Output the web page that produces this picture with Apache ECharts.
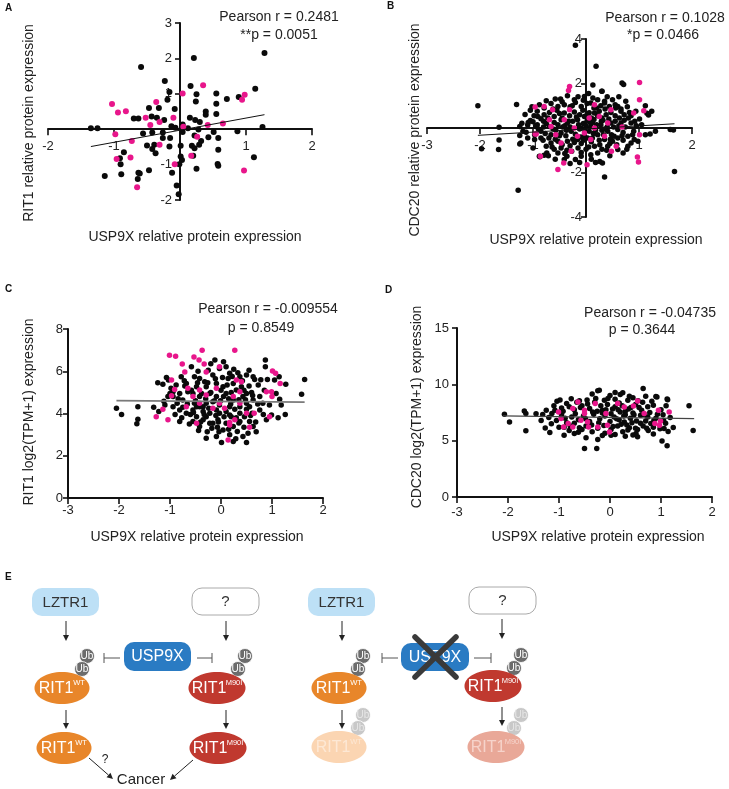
<!DOCTYPE html>
<html><head><meta charset="utf-8">
<script src="https://cdn.jsdelivr.net/npm/echarts/dist/echarts.min.js"></script>
<style>html,body{margin:0;padding:0;background:#fff}#c{width:729px;height:789px}</style>
</head><body><div id="c"></div>
<script>
// ---------------- DATA ----------------
// Panel A: USP9X vs RIT1 relative protein expression
const aBlack = [[1.28,2.15],[0.21,2.01],[-0.59,1.76],[-0.23,1.36],[0.16,1.22],[-0.16,1.05],[0.25,0.99],[0.55,1.01],[1.14,1.14],[0.71,0.85],[0.89,0.91],[-0.19,0.83],[0.24,0.78],[0.55,0.72],[-0.32,0.60],[-0.47,0.60],[-0.08,0.57],[0.39,0.50],[0.55,0.43],[0.39,0.41],[0.15,0.32],[-0.70,0.30],[-0.63,0.30],[-0.43,0.36],[-0.35,0.32],[-0.24,0.26],[0.23,0.26],[0.30,0.20],[-1.35,0.03],[-1.25,0.03],[-0.13,0.08],[-0.07,0.04],[0.04,0.13],[0.12,0.03],[0.28,-0.01],[0.51,-0.08],[0.87,-0.06],[1.25,0.06],[-0.56,-0.12],[-0.42,-0.09],[-0.26,-0.09],[0.04,-0.08],[0.22,-0.18],[0.43,-0.23],[0.58,-0.25],[-0.26,-0.25],[-0.15,-0.25],[0.32,-0.33],[-0.50,-0.46],[-0.39,-0.44],[-0.16,-0.49],[0.01,-0.47],[0.18,-0.47],[0.22,-0.54],[0.29,-0.44],[-0.42,-0.56],[-0.37,-0.68],[-0.85,-0.65],[-0.91,-0.82],[0.58,-0.58],[0.01,-0.77],[0.03,-0.87],[1.12,-0.79],[0.20,-0.75],[-0.90,-0.99],[-0.01,-0.99],[0.57,-0.98],[0.58,-1.03],[0.25,-1.12],[-0.47,-1.16],[-0.89,-1.27],[-1.14,-1.32],[-0.12,-1.23],[-0.63,-1.23],[-0.64,-1.41],[-0.05,-1.59],[-0.02,-1.84],[-0.61,-1.25]];
const aPink = [[-1.03,0.71],[-0.94,0.47],[-0.82,0.51],[-0.36,0.77],[0.04,1.01],[0.35,1.24],[0.98,0.97],[0.94,0.83],[-0.52,0.32],[-0.10,0.32],[-0.31,0.20],[-0.45,0.12],[0.05,0.07],[0.42,0.12],[0.65,0.16],[-0.98,-0.14],[-0.73,-0.33],[-0.31,-0.44],[0.26,-0.21],[-0.96,-0.84],[-0.75,-0.80],[0.17,-0.75],[-0.08,-0.99],[0.97,-1.17],[-0.65,-1.64]];
const aFit = [[-1.35,-0.49],[1.28,0.41]];
const aStats = ['Pearson r = 0.2481', '**p = 0.0051'];

// Panel B: USP9X vs CDC20 relative protein expression
const bBlack = [[-0.75,1.23],[-0.58,1.30],[-0.45,1.18],[-0.22,1.27],[-0.03,1.42],[0.13,1.35],[0.22,1.27],[0.35,1.20],[0.50,1.27],[0.75,1.20],[-0.15,1.41],[0.05,1.55],[0.30,1.65],[-0.35,1.45],
[-1.02,0.96],[-0.88,1.05],[-0.79,0.90],[-0.66,1.10],[-0.53,0.97],[-0.41,1.05],[-0.30,0.95],[-0.09,0.97],[0.02,1.10],[0.09,1.12],[0.20,0.90],[0.35,1.12],[0.44,0.97],[0.55,1.05],[0.60,0.97],[0.66,0.85],[0.94,0.75],[1.12,1.00],[-0.20,1.15],[0.28,1.00],[0.78,0.95],[-0.62,0.85],
[-1.15,0.61],[-0.98,0.55],[-0.91,0.52],[-0.79,0.60],[-0.69,0.70],[-0.60,0.52],[-0.50,0.65],[-0.41,0.67],[-0.31,0.55],[-0.22,0.72],[-0.12,0.60],[-0.03,0.52],[0.06,0.68],[0.16,0.67],[0.25,0.75],[0.38,0.60],[0.47,0.70],[0.55,0.55],[0.66,0.75],[0.72,0.60],[0.85,0.55],[1.01,0.40],[1.15,0.66],[1.18,0.58],[1.24,0.75],[0.80,0.45],[-0.45,0.45],[0.10,0.45],[0.30,0.45],[-0.85,0.42],
[-1.25,0.07],[-1.21,0.21],[-1.10,0.13],[-1.09,0.25],[-1.00,0.28],[-1.05,0.34],[-0.92,0.15],[-0.80,0.30],[-0.69,0.07],[-0.60,0.25],[-0.53,0.15],[-0.47,0.37],[-0.40,0.10],[-0.35,0.22],[-0.25,0.30],[-0.16,0.37],[-0.09,0.00],[-0.05,0.20],[0.02,0.32],[0.09,0.07],[0.12,0.25],[0.20,0.15],[0.28,0.15],[0.32,0.35],[0.40,0.05],[0.47,0.22],[0.55,0.30],[0.62,0.10],[0.66,0.22],[0.72,0.35],[0.85,0.22],[0.95,0.10],[-1.64,0.03],[-0.75,0.20],[-0.30,0.05],[0.15,0.38],
[-1.13,-0.19],[-1.19,-0.15],[-1.25,-0.34],[-0.97,-0.30],[-0.85,-0.15],[-0.77,-0.25],[-0.66,-0.30],[-0.57,-0.10],[-0.47,-0.22],[-0.38,-0.35],[-0.28,-0.15],[-0.20,-0.28],[-0.12,-0.05],[-0.03,-0.35],[0.06,-0.15],[0.14,-0.25],[0.22,-0.30],[0.30,-0.10],[0.41,-0.15],[0.48,-0.30],[0.53,-0.37],[0.60,-0.07],[0.70,-0.20],[0.79,-0.37],[0.90,-0.15],[1.12,-0.30],[1.21,-0.27],[1.31,-0.15],[1.59,-0.07],[1.65,-0.09],[-0.90,-0.05],[0.35,-0.05],[-0.62,-0.05],
[-1.25,-0.72],[-1.23,-0.67],[-0.97,-0.52],[-0.75,-0.82],[-0.66,-0.67],[-0.58,-0.50],[-0.53,-0.60],[-0.45,-0.75],[-0.35,-0.60],[-0.25,-0.50],[-0.16,-0.52],[-0.09,-0.70],[0.03,-0.45],[0.10,-0.62],[0.16,-0.82],[0.25,-0.55],[0.35,-0.52],[0.45,-0.70],[0.50,-0.60],[0.60,-0.45],[0.85,-0.67],[0.91,-0.52],[-1.64,-0.54],[0.70,-0.55],[-0.05,-0.55],
[-1.65,-0.97],[-1.97,-0.93],[-0.79,-1.23],[-0.74,-1.12],[-0.53,-1.12],[-0.47,-0.90],[-0.36,-1.00],[-0.27,-1.05],[-0.15,-0.90],[-0.09,-1.10],[0.09,-1.20],[0.22,-1.12],[0.30,-0.95],[0.41,-0.82],[0.60,-0.97],[0.70,-1.12],[0.79,-0.82],[-0.60,-0.95],[0.00,-0.95],
[-0.88,-1.27],[-0.87,-1.29],[-0.71,-1.25],[-0.41,-1.42],[-0.36,-1.27],[-0.20,-1.42],[-0.09,-1.27],[0.26,-1.50],[0.31,-1.57],[0.35,-2.20],[1.67,-1.95],[-1.28,-2.80],[-0.30,-1.60],[0.10,-1.40],
[-0.20,3.72],[0.19,2.77],[0.13,1.93],[0.30,1.65],[0.68,2.02],[0.71,1.95],[-1.31,1.06],[-2.04,1.00],
[-1.05,0.80],[-0.95,0.10],[-0.85,-0.45],[-0.72,0.45],[-0.70,-0.45],[-0.64,-0.85],[-0.55,0.80],[-0.50,-0.35],[-0.44,0.05],[-0.40,-1.15],[-0.33,0.30],[-0.30,-0.80],[-0.26,1.00],[-0.22,-0.65],[-0.18,0.50],[-0.14,0.15],[-0.10,-0.40],[-0.06,0.80],[-0.02,-0.15],[0.02,0.60],[0.05,-0.85],[0.08,0.25],[0.12,-0.45],[0.15,0.90],[0.18,-0.10],[0.22,0.55],[0.26,-0.75],[0.29,0.30],[0.33,-0.30],[0.36,0.85],[0.39,-1.00],[0.43,0.40],[0.46,-0.50],[0.52,0.05],[0.56,0.90],[0.58,-0.75],[0.63,0.45],[0.68,-0.35],[0.74,0.05],[0.77,-0.95],[0.82,0.70],[0.88,-0.30],[0.92,0.30],[0.98,-0.60],[1.05,0.15],[-1.10,-0.45],[-1.00,-0.90],[-0.92,0.75],[-0.81,-0.55],[-0.58,-1.40],[-0.12,-1.55],[0.18,-1.55],[0.45,-1.25],[-0.05,1.25],[0.40,1.40],[-0.48,1.30],[0.62,1.40],[-0.80,0.05],[-0.37,-0.10],[0.00,0.10]];
const bPink = [[-0.31,1.87],[-0.33,1.69],[1.01,2.05],[1.01,1.27],[1.09,0.78],[0.90,0.67],[0.68,0.04],[1.01,-0.30],[0.97,-1.30],[0.99,-1.53],[0.02,-1.65],[-0.53,-1.87],[-0.42,-1.57],[-0.86,-1.27],[-0.94,-0.27],[-0.96,-0.27],[-0.96,0.94],[-0.79,0.97],[-0.63,0.82],[-0.31,0.82],[0.16,1.05],[0.47,0.82],[0.35,-0.37],[0.48,-1.05],[0.57,-0.82],[-0.47,-0.67],[-0.66,0.07],[-0.57,-0.30],[-0.22,0.00],[-0.03,-0.22],[0.16,0.00],[0.25,0.52],[-0.16,-0.37],[-0.41,0.37],[-0.69,0.37],[0.09,-0.52],[-0.28,-1.05],[0.06,0.45],[0.41,0.22]];
const bFit = [[-2.04,-0.33],[1.67,0.19]];
const bStats = ['Pearson r = 0.1028', '*p = 0.0466'];

// Panel C: USP9X protein vs RIT1 log2(TPM+1)
const cBlack = [[-2.05,4.25],[-1.95,3.95],[-1.63,4.32],[-1.63,3.73],[-1.65,3.51],[-1.32,4.29],[-1.24,5.46],[-1.14,5.39],[-1.22,4.09],[-1.12,4.58],[-1.07,5.71],[-1.03,5.58],[-0.94,5.03],[-0.86,4.48],[-0.81,3.62],[-0.78,5.74],[-0.71,5.30],[-0.65,5.03],[-0.58,6.21],[-0.52,4.48],[-0.48,3.85],[-0.42,3.38],[-0.35,4.32],[-0.32,5.50],[-0.27,3.14],[-0.22,4.95],[-0.16,5.82],[-0.12,6.53],[-0.09,4.17],[-0.06,3.70],[-0.04,3.14],[0.01,2.63],[0.05,4.80],[0.10,6.21],[0.14,5.66],[0.17,4.32],[0.20,3.85],[0.24,2.67],[0.29,2.81],[0.30,5.11],[0.33,5.93],[0.37,4.32],[0.40,5.27],[0.43,4.80],[0.50,2.63],[0.53,3.07],[0.56,3.62],[0.61,4.01],[0.66,5.61],[0.73,5.35],[0.76,4.80],[0.82,4.48],[0.87,6.53],[0.87,6.21],[0.89,3.70],[0.91,5.61],[0.99,3.93],[1.05,5.58],[1.14,5.74],[1.15,4.67],[1.18,4.40],[1.27,5.39],[1.26,3.95],[1.58,4.91],[1.64,5.61],
[-0.55,3.62],[-0.68,4.01],[-0.29,3.85],[-0.16,3.54],[0.10,3.54],[0.24,3.38],[0.37,3.62],[0.46,3.85],[0.63,3.38],[0.69,3.14],[-0.03,4.40],[-0.16,4.56],[-0.42,4.80],[-0.55,4.95],[-0.75,4.64],[-0.94,4.32],[-1.04,4.80],[-0.81,4.17],[-0.42,4.32],[-0.29,4.48],[-0.09,4.80],[0.10,4.95],[0.24,4.64],[0.50,4.48],[0.63,4.64],[0.50,4.95],[0.24,5.42],[0.04,5.27],[-0.09,5.42],[-0.29,5.27],[-0.48,5.27],[-0.68,5.42],[-0.81,4.95],[-0.55,4.17],[-0.22,4.01],[-0.03,4.01],[0.17,3.93],[0.37,4.01],[0.56,4.32],[0.76,4.17],[-0.22,3.54],[-0.35,3.70],[-0.48,4.32],[0.04,3.22],[0.17,2.99],[-0.09,2.91],[-0.29,2.83],[0.43,2.91],[0.63,5.74],[0.50,5.82],[0.37,5.74],[0.17,5.90],[-0.03,6.13],[-0.25,6.05],[-0.42,5.66],[-0.52,5.74],[-0.88,5.35],[-0.94,4.80],
[-0.60,3.95],[-0.35,4.10],[-0.10,3.90],[0.10,4.10],[0.30,3.80],[0.50,4.20],[-0.20,5.00],[0.00,5.10],[0.20,5.00],[0.45,5.10],[-0.50,4.60],[-0.75,4.30],[0.60,5.00],[-0.05,3.60],[0.35,3.55],[-0.40,3.60],[0.15,4.70],[-0.30,4.70],
[-1.10,4.40],[-0.98,5.20],[-0.90,3.95],[-0.84,4.70],[-0.77,3.80],[-0.72,5.55],[-0.66,4.45],[-0.62,3.50],[-0.58,5.10],[-0.54,4.05],[-0.46,5.45],[-0.44,3.20],[-0.38,4.95],[-0.33,3.95],[-0.26,5.45],[-0.24,4.25],[-0.18,3.30],[-0.13,4.60],[-0.11,5.65],[-0.07,3.35],[-0.01,4.60],[0.03,5.70],[0.06,3.85],[0.12,5.35],[0.15,3.25],[0.19,4.45],[0.22,5.75],[0.27,4.20],[0.32,3.15],[0.35,4.65],[0.42,5.55],[0.45,3.35],[0.48,4.65],[0.55,5.30],[0.58,3.90],[0.62,4.85],[0.68,3.60],[0.72,4.45],[0.78,5.60],[0.83,3.95],[0.85,5.10],[0.95,4.40],[1.08,4.95],[1.12,3.80],[-0.20,6.35],[0.05,6.45],[0.25,6.10],[-0.45,6.00],[0.55,6.05],[-1.00,4.95]];
const cPink = [[-1.01,6.76],[-0.89,6.71],[-0.53,6.67],[-0.37,7.00],[0.27,7.00],[-0.43,6.53],[-0.33,6.34],[-0.76,6.34],[-0.71,5.97],[-0.29,5.97],[-0.03,6.21],[1.01,6.01],[1.07,5.90],[1.16,5.42],[-0.97,5.58],[-0.91,5.14],[-0.97,4.84],[-1.04,3.70],[-1.27,3.85],[-1.14,4.20],[-0.65,5.19],[-0.55,4.80],[-0.42,5.11],[-0.09,5.19],[0.24,4.80],[0.37,4.48],[0.50,4.01],[0.65,4.01],[0.56,3.35],[0.17,3.57],[0.17,3.46],[0.14,2.75],[0.27,3.70],[0.99,5.03],[1.00,4.80],[0.89,5.03],[0.95,3.85],[-0.68,4.32],[-0.29,4.87],[-0.03,4.48],[-0.16,4.25],[0.07,4.25],[-0.42,4.48],[-0.48,3.54],[0.37,5.03],[0.30,5.58],[0.40,5.50]];
const cFit = [[-2.05,4.61],[1.64,4.54]];
const cStats = ['Pearson r = -0.009554', 'p = 0.8549'];

// Panel D: USP9X protein vs CDC20 log2(TPM+1)
const dBlack = [[-0.21,9.47],[0.10,9.27],[0.10,8.67],[0.65,9.62],[-0.24,9.44],[0.25,9.26],[-0.11,8.58],[0.35,8.58],[-0.76,8.73],[-1.04,8.50],[0.92,8.88],[0.90,8.91],[1.12,8.70],[0.45,8.80],[-0.45,8.60],[0.00,9.00],[0.55,8.55],[-0.60,8.55],
[-1.10,8.10],[-0.95,7.90],[-0.85,8.30],[-0.70,7.75],[-0.55,8.10],[-0.40,7.85],[-0.30,8.40],[-0.15,7.70],[-0.05,8.20],[0.05,7.80],[0.18,8.35],[0.30,7.60],[0.41,7.94],[0.50,8.20],[0.62,7.70],[0.74,8.00],[0.85,8.14],[1.00,7.75],[1.13,8.64],[1.55,8.11],[-0.25,7.60],[0.20,7.55],[-1.25,7.70],[-0.65,8.40],
[-2.07,7.35],[-1.68,7.64],[-1.65,7.41],[-1.32,7.32],[-1.14,7.41],[-1.20,7.05],[-1.05,6.80],[-0.95,7.30],[-0.85,6.60],[-0.75,7.10],[-0.62,6.85],[-0.52,7.20],[-0.40,6.70],[-0.32,7.35],[-0.20,6.95],[-0.10,7.20],[0.00,6.70],[0.08,7.10],[0.18,6.85],[0.28,6.66],[0.30,7.30],[0.40,7.00],[0.52,6.75],[0.60,7.25],[0.74,7.11],[0.80,6.52],[0.90,7.00],[1.05,6.80],[1.09,6.55],[-1.97,6.66],[-0.15,7.45],[0.45,7.45],[-0.70,6.55],[0.70,6.75],
[-1.65,5.87],[-1.27,6.13],[-1.18,5.72],[-0.90,6.20],[-0.70,5.64],[-0.55,6.00],[-0.47,6.30],[-0.35,5.80],[-0.24,6.10],[-0.10,5.65],[0.02,6.00],[0.15,6.30],[0.25,5.80],[0.38,6.15],[0.51,5.64],[0.54,6.00],[0.65,6.30],[0.75,5.90],[0.85,6.20],[1.06,6.08],[1.14,5.81],[1.24,6.17],[1.63,5.90],[-0.80,5.90],[0.45,5.50],
[-0.90,5.49],[-0.47,5.25],[-0.24,5.10],[0.02,5.49],[0.54,5.34],[1.02,4.98],[1.12,4.54],[-0.50,4.31],[-0.26,4.31],[0.30,5.40],
[-1.15,6.50],[-1.08,7.70],[-1.00,6.20],[-0.92,7.60],[-0.88,7.00],[-0.80,8.00],[-0.78,6.30],[-0.68,7.40],[-0.60,6.15],[-0.58,7.95],[-0.48,6.95],[-0.44,8.25],[-0.36,6.40],[-0.34,7.55],[-0.28,8.75],[-0.22,6.60],[-0.18,8.10],[-0.12,6.35],[-0.08,7.75],[-0.04,8.75],[0.02,7.40],[0.06,6.25],[0.10,8.00],[0.13,6.95],[0.16,7.75],[0.22,6.45],[0.24,8.10],[0.27,7.20],[0.33,6.40],[0.36,7.80],[0.38,8.95],[0.43,6.60],[0.47,7.30],[0.50,6.10],[0.57,7.95],[0.60,6.55],[0.64,8.40],[0.68,7.30],[0.72,6.10],[0.78,7.50],[0.82,8.50],[0.86,6.80],[0.93,7.35],[0.98,6.05],[1.04,7.30],[1.10,8.10],[1.18,7.05],[-1.35,6.80],[-1.45,7.40],[-0.98,8.60],[0.20,9.10],[-0.35,9.15],[0.70,8.95],[-0.62,5.75],[0.10,5.55],[0.85,5.60],[-0.15,5.45],[0.35,5.95]];
const dPink = [[-0.50,7.70],[-0.29,8.29],[-0.08,7.41],[-0.05,6.37],[0.15,8.29],[0.28,7.99],[0.46,8.08],[0.54,8.52],[0.95,7.70],[1.16,7.55],[0.88,6.52],[0.99,6.75],[0.97,6.37],[-0.44,6.66],[-0.24,6.22],[-0.01,5.78],[0.67,7.41],[-1.01,7.55],[-0.96,6.96],[-0.91,6.22],[-0.82,6.52],[-0.73,7.85],[-0.63,8.43],[-0.73,6.22],[-0.57,6.81],[-0.50,7.41],[-0.42,6.22]];
const dFit = [[-2.10,7.20],[1.65,6.95]];
const dStats = ['Pearson r = -0.04735', 'p = 0.3644'];

const xTitle = 'USP9X relative protein expression';
const yTitles = ['RIT1 relative protein expression','CDC20 relative protein expression','RIT1 log2(TPM+1) expression','CDC20 log2(TPM+1) expression'];

// ---------------- CHART ----------------
const FONT = 'Liberation Sans, Arial, Helvetica, sans-serif';
const BLACK = '#0a0a0a', PINK = '#e8168b';
const chart = echarts.init(document.getElementById('c'), null, {renderer:'canvas'});

const grids = [
  {left:48, top:23, width:264, height:177},
  {left:427, top:39, width:265, height:178},
  {left:68, top:329, width:255, height:169},
  {left:457, top:328, width:255, height:169}
];

function hideZero(v){ return v === 0 ? '' : String(v); }
// offset that puts an axis through the zero of the other axis (crossing axes)
function zeroOffset(min, max, size){ return -(0 - min) / (max - min) * size; }

function xAx(gi, min, max, interval, margin, hide0, offset){
  return {type:'value', gridIndex:gi, min, max, interval, position:'bottom', offset: offset||0,
    axisLine:{show:true, onZero:false, lineStyle:{color:'#111', width:2}},
    axisTick:{show:true, length:6, lineStyle:{color:'#111', width:1.6}},
    axisLabel:{color:'#222', fontSize:13, fontFamily:FONT, margin, formatter: hide0 ? hideZero : null},
    splitLine:{show:false}};
}
function yAx(gi, min, max, interval, margin, hide0, offset){
  return {type:'value', gridIndex:gi, min, max, interval, position:'left', offset: offset||0,
    axisLine:{show:true, onZero:false, lineStyle:{color:'#111', width:2}},
    axisTick:{show:true, length:5, lineStyle:{color:'#111', width:1.6}},
    axisLabel:{color:'#222', fontSize:13, fontFamily:FONT, margin, formatter: hide0 ? hideZero : null},
    splitLine:{show:false}};
}
function scat(gi, data, color, size){
  return {type:'scatter', xAxisIndex:gi, yAxisIndex:gi, data, symbol:'circle', symbolSize:size,
    itemStyle:{color, opacity:1}, silent:true, z:3};
}
function fit(gi, data, color, w){
  return {type:'line', xAxisIndex:gi, yAxisIndex:gi, data, symbol:'none', silent:true, z:4,
    lineStyle:{color, width:w}};
}

// ---- graphic helpers ----
const G = [];
function txt(x, y, text, size, color, opts){
  G.push(Object.assign({type:'text', x, y, z:10, silent:true,
    style:{text, fontSize:size, fontFamily:FONT, fill:color, align:'center', verticalAlign:'middle'}}, opts||{}));
}
function rect(x, y, w, h, fill, stroke){
  G.push({type:'rect', z:5, silent:true, shape:{x, y, width:w, height:h, r:10},
    style:{fill, stroke: stroke||null, lineWidth: stroke?1:0}});
}
function line(x1, y1, x2, y2, color, w, cap){
  G.push({type:'line', z:6, silent:true, shape:{x1, y1, x2, y2},
    style:{stroke:color, lineWidth:w, lineCap: cap||'butt'}});
}
function arrow(x1, y1, x2, y2){
  const dx = x2-x1, dy = y2-y1, L = Math.hypot(dx, dy), ux = dx/L, uy = dy/L;
  const bx = x2 - ux*6, by = y2 - uy*6;
  line(x1, y1, bx, by, '#222', 1);
  G.push({type:'polygon', z:6, silent:true, shape:{points:[[x2,y2],[bx - uy*3, by + ux*3],[bx + uy*3, by - ux*3]]}, style:{fill:'#222'}});
}
function inhib(x1, x2, y){
  line(x1, y, x2, y, '#555', 1);
  line(x2, y-5, x2, y+5, '#555', 1);
}
function ub(cx, cy, faded){
  G.push({type:'circle', z:7, silent:true, shape:{cx, cy, r:7.5},
    style:{fill: faded ? '#c8c8c8' : '#6c6c6c', stroke:'#fff', lineWidth:0.8}});
  txt(cx, cy+0.5, 'Ub', 10, faded ? '#e6e6e6' : '#fff', {z:8});
}
function rit(cx, cy, mutant, fill, tcolor){
  G.push({type:'ellipse', z:7, silent:true, shape:{cx, cy, rx: mutant?28.5:27.5, ry:16}, style:{fill}});
  if (mutant){
    txt(cx-8, cy+1, 'RIT1', 16, tcolor, {z:8});
    txt(cx+17, cy-5, 'M90I', 7.5, tcolor, {z:8});
  } else {
    txt(cx-6, cy+1, 'RIT1', 16, tcolor, {z:8});
    txt(cx+17, cy-5, 'WT', 7.5, tcolor, {z:8});
  }
}

// Panel labels
[['A',5,8],['B',387,6],['C',5,289],['D',385,290],['E',5,577]].forEach(([t,x,y]) =>
  txt(x, y, t, 10, '#111', {style:{text:t, fontSize:10, fontWeight:'bold', fontFamily:FONT, fill:'#111', align:'left', verticalAlign:'middle'}}));

// statistics text
txt(279, 17, aStats[0], 14, '#222'); txt(279, 35, aStats[1], 14, '#222');
txt(665, 18, bStats[0], 14, '#222'); txt(663, 35, bStats[1], 14, '#222');
txt(268, 309, cStats[0], 14, '#222'); txt(261, 328, cStats[1], 14, '#222');
txt(650, 313, dStats[0], 14, '#222'); txt(642, 330, dStats[1], 14, '#222');

// axis titles
txt(195, 237, xTitle, 14, '#222'); txt(596, 240, xTitle, 14, '#222');
txt(197, 537, xTitle, 14, '#222'); txt(598, 537, xTitle, 14, '#222');
txt(29, 123, yTitles[0], 14, '#222', {rotation:Math.PI/2});
txt(415, 130, yTitles[1], 14, '#222', {rotation:Math.PI/2});
txt(29, 412, yTitles[2], 14, '#222', {rotation:Math.PI/2});
txt(417, 407, yTitles[3], 14, '#222', {rotation:Math.PI/2});

// ---- Panel E diagram ----
const ORANGE = '#e8862a', RED = '#c0392f', BLUE = '#2a7bc3', LBLUE = '#bde0f6';
// left scheme
rect(32, 588, 67, 28, LBLUE); txt(65.5, 602.5, 'LZTR1', 15, '#333', {z:9});
arrow(66, 621, 66, 641);
rect(192, 588, 67, 27, '#fff', '#aaa'); txt(225.5, 601.5, '?', 15, '#333', {z:9});
arrow(226, 621, 226, 641);
rect(124, 642, 67, 29, BLUE); txt(157.5, 657, 'USP9X', 16, '#fff', {z:9});
inhib(120, 104, 658); inhib(197, 212, 658);
ub(87, 656); ub(82, 669);
rit(62, 688, false, ORANGE, '#fff');
ub(245, 656); ub(238, 669);
rit(217, 688, true, RED, '#fff');
arrow(66, 710, 66, 729);
arrow(226, 710, 226, 729);
rit(64, 748, false, ORANGE, '#fff');
rit(218, 748, true, RED, '#fff');
arrow(89, 758, 113, 779);
arrow(193, 760, 170, 780);
txt(105, 760, '?', 12, '#222');
txt(141, 780, 'Cancer', 15, '#222');
// right scheme (USP9X loss)
rect(308, 588, 67, 28, LBLUE); txt(341.5, 602.5, 'LZTR1', 15, '#333', {z:9});
arrow(342, 621, 342, 641);
rect(469, 587, 67, 27, '#fff', '#aaa'); txt(502.5, 600.5, '?', 15, '#333', {z:9});
arrow(502, 619, 502, 639);
rect(401, 643, 68, 28, BLUE); txt(435, 657.5, 'USP9X', 16, '#fff', {z:9});
G.push({type:'line', z:12, silent:true, shape:{x1:415, y1:637, x2:456, y2:677}, style:{stroke:'#3a3a3a', lineWidth:5.5, lineCap:'round'}});
G.push({type:'line', z:12, silent:true, shape:{x1:456, y1:637, x2:415, y2:677}, style:{stroke:'#3a3a3a', lineWidth:5.5, lineCap:'round'}});
inhib(398, 382, 658); inhib(474, 491, 658);
ub(363, 656); ub(358, 669);
rit(339, 688, false, ORANGE, '#fff');
ub(521, 655); ub(514, 668);
rit(493, 686, true, RED, '#fff');
arrow(342, 710, 342, 729);
arrow(502, 707, 502, 726);
ub(363, 715, true); ub(358, 728, true);
rit(339, 747, false, '#fbd5b2', '#fde8d5');
ub(521, 715, true); ub(514, 728, true);
rit(496, 747, true, '#e9a898', '#f6d3cb');

const option = {
  backgroundColor:'#fff',
  animation:false,
  grid: grids,
  xAxis:[
    xAx(0, -2, 2, 1, 11, true, zeroOffset(-2, 3, grids[0].height)),
    xAx(1, -3, 2, 1, 11, true, zeroOffset(-4, 4, grids[1].height)),
    xAx(2, -3, 2, 1, 6, false, 0),
    xAx(3, -3, 2, 1, 9, false, 0)
  ],
  yAxis:[
    yAx(0, -2, 3, 1, 8, true, zeroOffset(-2, 2, grids[0].width)),
    yAx(1, -4, 4, 2, 4, true, zeroOffset(-3, 2, grids[1].width)),
    yAx(2, 0, 8, 2, 5, false, 0),
    yAx(3, 0, 15, 5, 8, false, 0)
  ],
  series:[
    scat(0, aBlack, BLACK, 6), scat(0, aPink, PINK, 6), fit(0, aFit, '#111', 1),
    scat(1, bBlack, BLACK, 5.5), scat(1, bPink, PINK, 5.5), fit(1, bFit, '#111', 1),
    scat(2, cBlack, BLACK, 5.5), scat(2, cPink, PINK, 5.5), fit(2, cFit, '#7a7a7a', 1.6),
    scat(3, dBlack, BLACK, 5.5), scat(3, dPink, PINK, 5.5), fit(3, dFit, '#444', 1.2)
  ],
  graphic:{elements:G}
};
chart.setOption(option);
</script></body></html>
